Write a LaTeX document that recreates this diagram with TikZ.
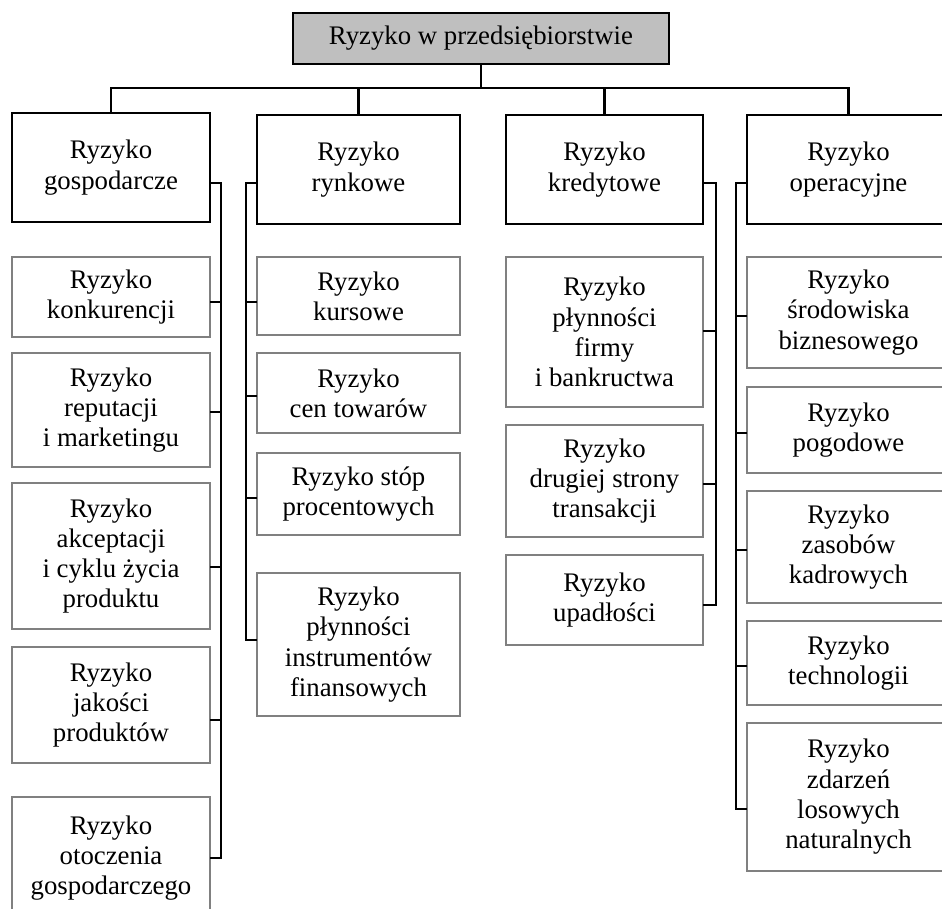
\documentclass[tikz,border=0pt]{standalone}
\usepackage{fontspec}
\setmainfont{Liberation Serif}
\begin{document}
\begin{tikzpicture}[x=1pt,y=-1pt,
  txt/.style={align=center,inner sep=0pt,outer sep=0pt,
    font=\fontsize{26.8pt}{30.3pt}\selectfont},
  rootbox/.style={txt,draw=black,line width=2.2pt,fill=black!25},
  mainbox/.style={txt,draw=black,line width=2.2pt,fill=white},
  subbox/.style={txt,draw=black!50,line width=2.3pt,fill=white},
  link/.style={draw=black,line width=2.2pt}]
\useasboundingbox (0,0) rectangle (942,908);
\clip (0,0) rectangle (942,908);

% root
\node[rootbox,minimum width=376pt,minimum height=51pt] (top) at (481,38.5) {Ryzyko w przedsiębiorstwie};

% main categories
\node[mainbox,minimum width=198pt,minimum height=109pt] (g1) at (111,167.5) {Ryzyko\\gospodarcze};
\node[mainbox,minimum width=203pt,minimum height=109pt] (g2) at (358.5,169.5) {Ryzyko\\rynkowe};
\node[mainbox,minimum width=197pt,minimum height=109pt] (g3) at (604.5,169.5) {Ryzyko\\kredytowe};
\node[mainbox,minimum width=203pt,minimum height=109pt] (g4) at (848.5,169.5) {Ryzyko\\operacyjne};

% column 1
\begin{scope}[every node/.style={subbox,minimum width=198pt}]
\node[minimum height=80pt]  (c11) at (111,297) {Ryzyko\\konkurencji};
\node[minimum height=114pt] (c12) at (111,410) {Ryzyko\\reputacji\\i marketingu};
\node[minimum height=146pt] (c13) at (111,556) {Ryzyko\\akceptacji\\i cyklu życia\\produktu};
\node[minimum height=116pt] (c14) at (111,705) {Ryzyko\\jakości\\produktów};
\node[minimum height=122pt] (c15) at (111,858) {Ryzyko\\otoczenia\\gospodarczego};
\end{scope}

% column 2
\begin{scope}[every node/.style={subbox,minimum width=203pt}]
\node[minimum height=78pt]  (c21) at (358.5,296) {Ryzyko\\kursowe};
\node[minimum height=80pt]  (c22) at (358.5,393) {Ryzyko\\cen towarów};
\node[minimum height=82pt]  (c23) at (358.5,494) {Ryzyko stóp\\procentowych};
\node[minimum height=143pt] (c24) at (358.5,644.5) {Ryzyko\\płynności\\instrumentów\\finansowych};
\end{scope}

% column 3
\begin{scope}[every node/.style={subbox,minimum width=197pt}]
\node[minimum height=150pt] (c31) at (604.5,332) {Ryzyko\\płynności\\firmy\\i bankructwa};
\node[minimum height=112pt] (c32) at (604.5,481) {Ryzyko\\drugiej strony\\transakcji};
\node[minimum height=90pt]  (c33) at (604.5,600) {Ryzyko\\upadłości};
\end{scope}

% column 4
\begin{scope}[every node/.style={subbox,minimum width=203pt}]
\node[minimum height=111pt] (c41) at (848.5,312.5) {Ryzyko\\środowiska\\biznesowego};
\node[minimum height=86pt]  (c42) at (848.5,430) {Ryzyko\\pogodowe};
\node[minimum height=112pt] (c43) at (848.5,547) {Ryzyko\\zasobów\\kadrowych};
\node[minimum height=84pt]  (c44) at (848.5,663) {Ryzyko\\technologii};
\node[minimum height=148pt] (c45) at (848.5,797) {Ryzyko\\zdarzeń\\losowych\\naturalnych};
\end{scope}

% bus from the root to the main categories
\coordinate (bus) at (483,88);
\draw[link] (top.south) -- (top.south |- bus);
\draw[link] (g1.north) |- (g4.north |- bus) -- (g4.north);
\draw[link] (g2.north) -- (g2.north |- bus);
\draw[link] (g3.north) -- (g3.north |- bus);

% rail positions
\coordinate (rg) at (221,0);
\coordinate (rr) at (246,0);
\coordinate (rk) at (716,0);
\coordinate (ro) at (736,0);

% attachment points
\coordinate (g1o) at ([yshift=-15.5pt]g1.east);
\coordinate (g2o) at ([yshift=-13.5pt]g2.west);
\coordinate (g3o) at ([yshift=-13.5pt]g3.east);
\coordinate (g4o) at ([yshift=-13.5pt]g4.west);

\coordinate (c11o) at ([yshift=-5pt]c11.east);
\coordinate (c12o) at ([yshift=-2pt]c12.east);
\coordinate (c13o) at ([yshift=-11pt]c13.east);
\coordinate (c14o) at ([yshift=-15pt]c14.east);
\coordinate (c15o) at (c15.east);

\coordinate (c21o) at ([yshift=-6pt]c21.west);
\coordinate (c22o) at ([yshift=-3pt]c22.west);
\coordinate (c23o) at ([yshift=-4pt]c23.west);
\coordinate (c24o) at ([yshift=4.5pt]c24.west);

\coordinate (c31o) at ([yshift=1pt]c31.east);
\coordinate (c32o) at ([yshift=-3pt]c32.east);
\coordinate (c33o) at ([yshift=-5pt]c33.east);

\coordinate (c41o) at ([yshift=-3.5pt]c41.west);
\coordinate (c42o) at ([yshift=-3pt]c42.west);
\coordinate (c43o) at ([yshift=-3pt]c43.west);
\coordinate (c44o) at ([yshift=-3pt]c44.west);
\coordinate (c45o) at ([yshift=-12pt]c45.west);

% rails
\draw[link] (g1o) -- (g1o -| rg) |- (c15o);
\foreach \n in {c11o,c12o,c13o,c14o} \draw[link] (\n) -- (\n -| rg);

\draw[link] (g2o) -- (g2o -| rr) |- (c24o);
\foreach \n in {c21o,c22o,c23o} \draw[link] (\n) -- (\n -| rr);

\draw[link] (g3o) -- (g3o -| rk) |- (c33o);
\foreach \n in {c31o,c32o} \draw[link] (\n) -- (\n -| rk);

\draw[link] (g4o) -- (g4o -| ro) |- (c45o);
\foreach \n in {c41o,c42o,c43o,c44o} \draw[link] (\n) -- (\n -| ro);
\end{tikzpicture}
\end{document}
